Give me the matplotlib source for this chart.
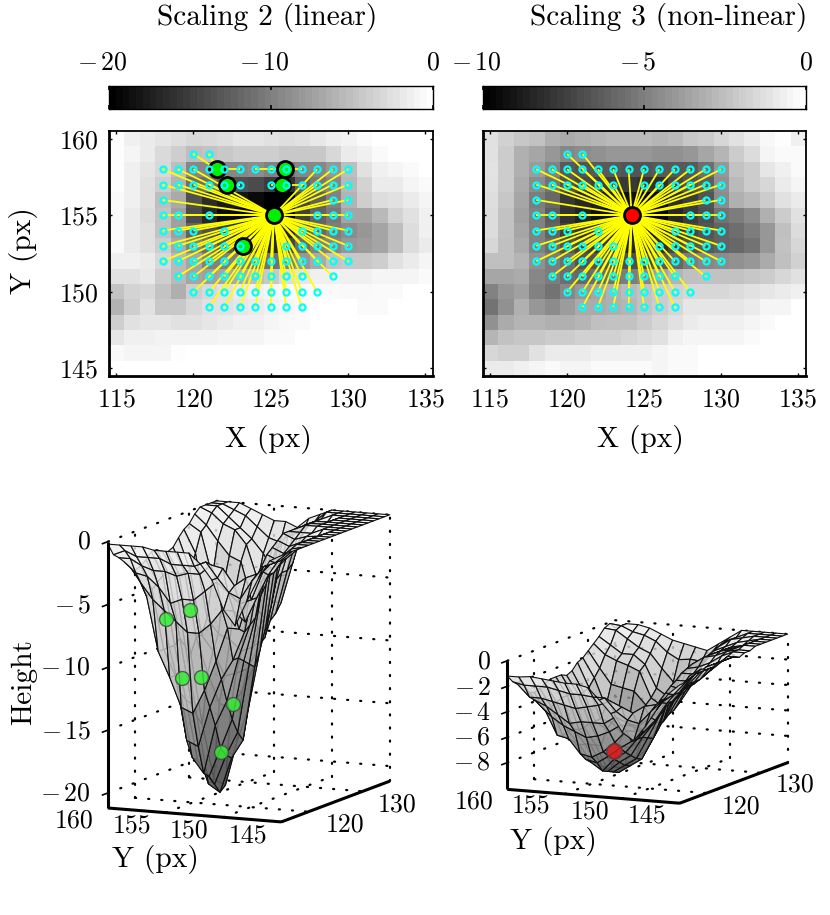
import numpy as np
import matplotlib
matplotlib.use("Agg")
import matplotlib.pyplot as plt
from matplotlib.transforms import ScaledTranslation
from mpl_toolkits.mplot3d import proj3d

plt.rcParams["font.family"] = ["cmr10"]
plt.rcParams["mathtext.fontset"] = "cm"
plt.rcParams["axes.formatter.use_mathtext"] = True
plt.rcParams["axes.unicode_minus"] = False

# ---------- data ----------
X_PIX = list(range(115, 136))
Y_PIX = list(range(160, 144, -1))

HEIGHT_LINEAR = [
 [-0.2,-1.2,-1.6,-2.1,-2.6,-3.1,-2.9,-2.6,-2.1,-2.1,-2.4,-2.6,-2.4,-1.8,-1.3,-1.0,-0.4,0,0,0,0],
 [-0.2,-0.8,-1.6,-2.9,-3.9,-5.1,-4.7,-4.3,-3.9,-3.9,-3.9,-4.3,-4.3,-4.3,-3.1,-1.6,-1.2,-0.4,0,0,0],
 [-0.2,-1.2,-2.1,-3.1,-5.1,-9.4,-9.4,-9.4,-9.4,-9.0,-9.8,-10.6,-9.4,-9.4,-8.2,-5.1,-2.4,-1.2,-0.8,-0.4,0],
 [-0.2,-1.2,-2.4,-3.9,-5.9,-11.4,-11.4,-12.9,-13.7,-14.1,-15.3,-16.1,-12.2,-10.6,-9.4,-5.5,-3.5,-1.6,-1.6,-0.8,-0.4],
 [-0.4,-1.2,-2.4,-5.1,-6.7,-13.7,-16.5,-18.0,-18.4,-19.2,-20.6,-20.4,-14.5,-12.5,-9.8,-5.9,-3.9,-2.7,-2.4,-1.6,-0.8],
 [-0.4,-1.6,-2.7,-4.7,-7.5,-14.1,-16.9,-19.2,-19.6,-20.4,-21.2,-20.8,-14.9,-12.2,-10.6,-7.1,-7.1,-5.5,-3.5,-2.4,-1.2],
 [-0.4,-1.6,-2.4,-4.7,-7.5,-12.2,-13.7,-15.3,-17.3,-18.0,-18.4,-17.3,-13.3,-11.8,-10.2,-9.0,-8.2,-7.1,-5.1,-2.7,-1.2],
 [-0.4,-1.6,-2.4,-3.9,-6.7,-9.8,-11.4,-13.3,-14.9,-16.1,-16.9,-14.5,-11.4,-9.8,-9.4,-8.2,-7.8,-7.1,-5.1,-2.7,-1.6],
 [-1.2,-1.2,-1.6,-3.1,-5.5,-7.1,-9.8,-9.8,-10.2,-10.6,-11.0,-9.8,-8.2,-6.7,-4.7,-4.3,-4.3,-3.9,-2.4,-1.6,-0.8],
 [-2.4,-2.4,-1.8,-3.9,-5.5,-7.1,-7.5,-7.1,-6.7,-5.1,-4.3,-2.7,-2.0,-1.2,-1.2,-1.2,-1.2,-0.8,-0.8,-0.8,-0.4],
 [-4.7,-3.5,-3.1,-4.7,-6.3,-3.9,-3.1,-2.4,-1.6,-1.2,-0.8,-0.4,-0.4,-0.4,-0.4,-0.5,-0.5,-0.4,-0.4,0,0],
 [-5.9,-3.9,-2.4,-4.3,-4.3,-3.1,-2.4,-2.4,-2.0,-1.6,-1.2,-0.8,-0.4,0,0,0,-0.4,-0.4,0,0,0],
 [-3.9,-2.4,-2.0,-2.0,-2.4,-2.4,-2.0,-1.6,-1.2,-1.2,-0.8,-0.5,-0.4,0,0,0,0,0,0,0,0],
 [-2.0,-1.2,-1.2,-1.0,-1.0,-1.0,-1.0,-0.8,-0.8,-0.8,-0.4,-0.4,0,0,0,0,0,0,0,0,0],
 [-0.5,-0.8,-0.8,-0.8,-0.2,0,0,0,0,0,0,0,0,0,0,0,0,0,0,0,0],
 [0,0,0,0,0,0,0,0,0,0,0,0,0,0,0,0,0,0,0,0,0],
]

HEIGHT_NONLINEAR = [
 [-1.2,-1.8,-2.2,-2.4,-3.1,-3.3,-3.1,-2.9,-2.7,-2.7,-2.7,-2.9,-2.7,-2.2,-2.0,-1.6,-1.2,-0.8,-0.3,-0.1,-0.6],
 [-1.2,-2.0,-3.1,-3.5,-4.1,-4.7,-4.5,-4.3,-4.1,-4.1,-4.1,-4.3,-4.3,-4.1,-3.5,-2.9,-2.0,-1.4,-0.4,-0.2,-0.2],
 [-1.1,-2.0,-3.1,-3.9,-4.9,-6.5,-6.7,-6.5,-6.5,-6.7,-6.7,-6.5,-6.5,-6.5,-5.7,-4.1,-2.4,-2.0,-1.0,-0.6,-0.2],
 [-1.2,-2.0,-3.3,-4.5,-5.5,-6.7,-7.1,-7.5,-7.6,-7.8,-8.0,-8.2,-7.1,-6.7,-6.3,-4.3,-2.7,-2.0,-1.6,-0.8,-0.4],
 [-1.3,-2.2,-3.5,-5.1,-5.9,-7.8,-8.4,-8.8,-9.0,-9.4,-9.8,-9.8,-8.2,-7.6,-6.7,-4.5,-3.1,-2.7,-2.0,-1.2,-0.8],
 [-1.4,-2.4,-3.7,-4.9,-6.3,-8.0,-8.6,-9.4,-9.6,-9.8,-10.0,-9.8,-8.4,-7.6,-6.9,-5.5,-5.1,-4.5,-3.1,-2.0,-1.2],
 [-1.4,-2.4,-3.5,-4.9,-6.1,-7.5,-8.0,-8.4,-8.8,-9.2,-9.4,-9.0,-7.8,-7.3,-6.7,-6.1,-5.7,-5.1,-4.1,-2.5,-1.4],
 [-1.6,-2.5,-3.3,-4.9,-5.7,-6.7,-7.3,-7.8,-8.2,-8.6,-8.8,-8.2,-7.3,-6.7,-6.5,-6.1,-5.9,-5.5,-4.1,-2.4,-1.6],
 [-2.5,-2.5,-2.9,-4.3,-5.1,-5.7,-6.7,-6.7,-6.7,-6.9,-7.1,-6.5,-5.9,-5.1,-4.7,-4.5,-4.3,-4.1,-3.3,-2.5,-1.8],
 [-3.5,-3.5,-3.3,-4.7,-5.1,-5.7,-5.9,-5.7,-5.5,-5.1,-4.7,-3.7,-2.9,-2.5,-2.4,-2.4,-2.4,-2.2,-2.0,-1.6,-1.2],
 [-4.9,-4.1,-3.7,-4.9,-5.5,-4.7,-4.1,-3.5,-3.1,-2.7,-2.4,-2.0,-1.8,-1.6,-1.6,-1.6,-1.4,-1.2,-1.0,-0.8,-0.6],
 [-5.5,-4.3,-3.1,-4.1,-4.5,-3.9,-3.3,-3.3,-3.1,-2.9,-2.4,-2.0,-1.6,-1.0,-1.0,-1.0,-1.0,-0.8,-0.4,-0.4,0],
 [-4.3,-3.3,-2.9,-2.9,-3.1,-3.1,-2.9,-2.5,-2.4,-2.4,-2.0,-1.6,-1.2,-0.8,-0.6,-0.6,-0.6,-0.4,-0.2,0,0],
 [-2.9,-2.4,-2.2,-2.2,-2.0,-2.0,-1.8,-1.8,-1.8,-1.6,-1.4,-1.2,-0.6,-0.4,-0.4,-0.4,-0.4,-0.2,0,0,0],
 [-1.6,-1.8,-1.8,-1.2,-0.8,-0.8,-0.8,-0.6,-0.6,-0.6,-0.6,-0.4,-0.2,-0.2,0,0,0,0,0,0,0],
 [-0.8,-0.8,-0.6,-0.4,-0.2,-0.4,-0.4,-0.2,-0.2,-0.2,-0.2,-0.4,-0.2,-0.2,0,0,0,0,0,0,0],
]

# input positions, by row (Y: list of X)
INPUT_ROWS = {
    159: [120, 121],
    158: [118, 119, 120, 121, 122, 123, 124, 125, 126, 127, 128, 129, 130],
    157: [118, 119, 120, 121, 122, 123, 125, 126, 127, 128, 129, 130],
    156: [118, 129, 130],
    155: [118, 119, 121, 128, 129, 130],
    154: [118, 119, 120, 122, 127, 128, 129, 130],
    153: [118, 119, 120, 121, 122, 123, 126, 127, 128, 129, 130],
    152: [118, 119, 120, 121, 122, 123, 124, 125, 126, 127, 128, 129, 130],
    151: [119, 120, 121, 122, 123, 124, 125, 126, 127, 129],
    150: [120, 121, 122, 123, 124, 125, 126, 127, 128],
    149: [121, 122, 123, 124, 125, 126, 127],
}

# minima found with scaling 2: x, y, height
MIN_LIN_X = [125.2, 121.5, 122.2, 125.9, 125.7, 123.2]
MIN_LIN_Y = [155.0, 158.0, 157.0, 158.0, 157.0, 153.0]
MIN_LIN_Z = [-18.0, -7.1, -11.8, -7.1, -12.3, -13.75]
# inputs that fall into a minimum other than the first one
BASINS_LIN = {
    (120, 159): 1, (121, 159): 1, (121, 158): 1, (122, 158): 1, (123, 158): 1,
    (122, 157): 2, (123, 157): 2,
    (124, 158): 3, (125, 158): 3, (126, 158): 3, (127, 158): 3,
    (125, 157): 4, (126, 157): 4, (127, 157): 4,
    (123, 153): 5,
}
# minimum found with scaling 3
MIN_NL_X = [124.2]
MIN_NL_Y = [155.0]
MIN_NL_Z = [-8.2]

TITLES = ["Scaling 2 (linear)", "Scaling 3 (non-linear)"]
CBAR_TICKS_LIN = [-20, -10, 0]
CBAR_TICKS_NL = [-10, -5, 0]
Z_TICKS_LIN = [0, -5, -10, -15, -20]
Z_TICKS_NL = [0, -2, -4, -6, -8]

W, H = 830, 915
fig = plt.figure(figsize=(W / 100, H / 100), dpi=100, facecolor="white")
FS = 18.6
FS_LABEL = 21.2
BLACK = "black"


def axes_px(left, top, right, bottom):
    return fig.add_axes([left / W, 1 - bottom / H, (right - left) / W, (bottom - top) / H])


def text_px(x, y, s, **kw):
    kw.setdefault("ha", "center")
    kw.setdefault("va", "center")
    kw.setdefault("fontsize", FS)
    return fig.text(x / W, 1 - y / H, s, **kw)


def mnum(v):
    return r"$-\,%d$" % abs(v) if v < 0 else r"$%d$" % v


def style_frame(ax):
    for side, lw in (("left", 2.0), ("bottom", 2.0), ("top", 1.3), ("right", 1.3)):
        ax.spines[side].set_linewidth(lw)
        ax.spines[side].set_zorder(6)


def heatmap(ax, Z, vmin, mins_x, mins_y, face, basins, ylabel):
    ax.imshow(np.array(Z), cmap="gray", vmin=vmin, vmax=0, aspect="auto", interpolation="nearest",
              extent=(114.5, 135.5, 144.5, 160.5), origin="upper", zorder=1)
    for yy, xs in INPUT_ROWS.items():
        for xx in xs:
            k = basins.get((xx, yy), 0)
            ax.plot([xx, mins_x[k]], [yy, mins_y[k]], color="#ffff00", lw=1.3, zorder=2,
                    solid_capstyle="butt")
    ax.plot(mins_x, mins_y, "o", ms=11.5, mfc=face, mec=BLACK, mew=2.0, ls="none", zorder=3)
    for yy, xs in INPUT_ROWS.items():
        ax.plot(xs, [yy] * len(xs), "o", ms=4.4, mfc="none", mec="#00ffff", mew=1.6, ls="none", zorder=4)
    ax.set_xlim(114.5, 135.5)
    ax.set_ylim(144.5, 160.5)
    ax.set_xticks([115, 120, 125, 130, 135])
    ax.set_yticks([145, 150, 155, 160])
    ax.tick_params(direction="in", length=2.5, width=1.0, top=True, right=True,
                   labelsize=FS, labelleft=ylabel)
    ax.tick_params(axis="x", pad=8.5)
    ax.tick_params(axis="y", pad=7)
    style_frame(ax)


def colorbar(ax, vmin, ticks):
    levels = np.linspace(vmin, 0, 48)[None, :]
    ax.imshow(levels, cmap="gray", vmin=vmin, vmax=0, aspect="auto",
              extent=(vmin, 0, 0, 1), interpolation="nearest")
    ax.set_yticks([])
    ax.set_xticks(ticks)
    ax.set_xticklabels([mnum(t) for t in ticks], fontsize=FS)
    ax.tick_params(axis="x", direction="in", length=3, width=1.2, top=True, bottom=True,
                   labeltop=True, labelbottom=False, pad=8)
    for s in ax.spines.values():
        s.set_linewidth(1.0)
    shift = ScaledTranslation(-6.5 / 100, 0, fig.dpi_scale_trans)
    for t, lab in zip(ticks, ax.get_xticklabels(which="major")):
        if t < 0:
            lab.set_transform(lab.get_transform() + shift)


def surface3d(rect_targets, Z, zmin, lz, mins_x, mins_y, mins_z, color, edge, z_ticks, size):
    ax = fig.add_axes([0.1, 0.1, 0.5, 0.5 * W / H], projection="3d", computed_zorder=False,
                      proj_type="ortho")
    ax.patch.set_alpha(0)
    ax.set_axis_off()
    ax.set_xlim(115, 135)
    ax.set_ylim(145, 160)
    ax.set_zlim(zmin, 0)
    ax.set_box_aspect((258, 190.6, lz))
    ax.view_init(elev=10, azim=204.8)

    # fit the axes so that the box corners land on their reference pixels
    M = ax.get_proj()
    A, b = [], []
    ax.apply_aspect()
    to_ax = ax.transAxes.inverted()
    for (px3, py3, pz3), (tx, ty) in rect_targets:
        x2, y2, _ = proj3d.proj_transform(px3, py3, pz3, M)
        fx, fy = to_ax.transform(ax.transData.transform((x2, y2)))
        A.append([fx, 1, 0]); b.append(tx)
        A.append([fy, 0, 1]); b.append(H - ty)
    s, ox, oy = np.linalg.lstsq(np.array(A), np.array(b), rcond=None)[0]
    ax.set_position([ox / W, oy / H, s / W, s / H])

    XX, YY = np.meshgrid(np.array(X_PIX, float), np.array(Y_PIX, float))
    ZZ = np.array(Z)

    # dotted grid on back walls and floor
    dot = dict(color=BLACK, lw=1.6, ls=(0, (0.5, 5.4)), dash_capstyle="round", zorder=1)
    for zt in z_ticks:
        ax.plot([115, 135], [160, 160], [zt, zt], **dot)
        ax.plot([135, 135], [160, 145], [zt, zt], **dot)
    for xt in (120, 130):
        ax.plot([xt, xt], [160, 160], [zmin, 0], **dot)
        ax.plot([xt, xt], [160, 145], [zmin, zmin], **dot)
    for yt in (155, 150, 145):
        ax.plot([135, 135], [yt, yt], [zmin, 0], **dot)
        ax.plot([115, 135], [yt, yt], [zmin, zmin], **dot)
    ax.plot([135, 135], [160, 160], [zmin, 0], **dot)

    rgba = plt.cm.gray(plt.Normalize(zmin * 1.55, -zmin * 0.09)(ZZ))
    rgba[..., 3] = 0.82
    ax.plot_surface(XX, YY, ZZ, rstride=1, cstride=1, facecolors=rgba, shade=False,
                    edgecolor="#101010", linewidth=0.8, zorder=2, antialiased=True)
    ax.scatter(mins_x, mins_y, mins_z, s=size, c=color, edgecolors=edge, linewidths=1.0,
               alpha=0.82, depthshade=False, zorder=3)

    axis = dict(color=BLACK, lw=2.2, zorder=5, solid_capstyle="butt")
    ax.plot([115, 115], [160, 160], [zmin, 0], **axis)
    ax.plot([115, 115], [160, 145], [zmin, zmin], **axis)
    ax.plot([115, 135], [145, 145], [zmin, zmin], **axis)
    for zt in z_ticks:
        ax.plot([115, 114], [160, 160.0], [zt, zt], color=BLACK, lw=1.2, zorder=5)
    return ax


# --- top row ---
ax1 = axes_px(108.5, 131, 433, 376)
heatmap(ax1, HEIGHT_LINEAR, -20, MIN_LIN_X, MIN_LIN_Y, "#00f000", BASINS_LIN, True)
ax2 = axes_px(482.5, 131, 805.5, 376)
heatmap(ax2, HEIGHT_NONLINEAR, -10, MIN_NL_X, MIN_NL_Y, "#ff0000", {}, False)

cb1 = axes_px(108.5, 86, 433, 109)
colorbar(cb1, -20, CBAR_TICKS_LIN)
cb2 = axes_px(482.5, 86, 805.5, 109)
colorbar(cb2, -10, CBAR_TICKS_NL)

text_px(267.5, 17, TITLES[0], fontsize=FS_LABEL)
text_px(669, 17, TITLES[1], fontsize=FS_LABEL)
text_px(268, 440, "X (px)", fontsize=FS_LABEL)
text_px(640, 440, "X (px)", fontsize=FS_LABEL)
text_px(24, 251, "Y (px)", rotation=90, fontsize=FS_LABEL)

# --- bottom row ---
ZMIN_LIN, ZMIN_NL = -21.2, -10.1
surface3d([((115, 160, 0), (108, 541.7)), ((115, 160, ZMIN_LIN), (108, 808)),
           ((115, 145, ZMIN_LIN), (281, 822)), ((135, 145, ZMIN_LIN), (390, 781))],
          HEIGHT_LINEAR, ZMIN_LIN, 270, MIN_LIN_X, MIN_LIN_Y, MIN_LIN_Z, "#33ee33", "#444444",
          Z_TICKS_LIN, 100)
surface3d([((115, 160, 0), (507, 662)), ((115, 160, ZMIN_NL), (507, 789)),
           ((115, 145, ZMIN_NL), (680, 803)), ((135, 145, ZMIN_NL), (788, 762))],
          HEIGHT_NONLINEAR, ZMIN_NL, 131, MIN_NL_X, MIN_NL_Y, MIN_NL_Z, "#e01515", "#444444",
          Z_TICKS_NL, 125)

# tick and axis text of the 3D panels
for zt, py in zip(Z_TICKS_LIN, [541.7, 605.7, 668, 731.7, 794]):
    text_px(91, py, mnum(zt), ha="right")
for yt, (px, py) in zip([160, 155, 150, 145], [(74, 821), (132, 826), (189, 831), (248, 836)]):
    text_px(px, py, str(yt))
for xt, (px, py) in zip([120, 130], [(345, 825), (397, 805)]):
    text_px(px, py, str(xt))
text_px(24, 682, "Height", rotation=90, fontsize=FS_LABEL)
text_px(155, 859, "Y (px)", fontsize=FS_LABEL)

for zt, py in zip(Z_TICKS_NL, [662, 688, 713, 738, 763]):
    text_px(491, py, mnum(zt), ha="right")
for yt, (px, py) in zip([160, 155, 150, 145], [(474, 802), (531, 806), (590, 812), (647, 816)]):
    text_px(px, py, str(yt))
for xt, (px, py) in zip([120, 130], [(741, 807), (795, 785)]):
    text_px(px, py, str(xt))
text_px(553, 842, "Y (px)", fontsize=FS_LABEL)

fig.savefig("out.png", dpi=100, facecolor="white")
